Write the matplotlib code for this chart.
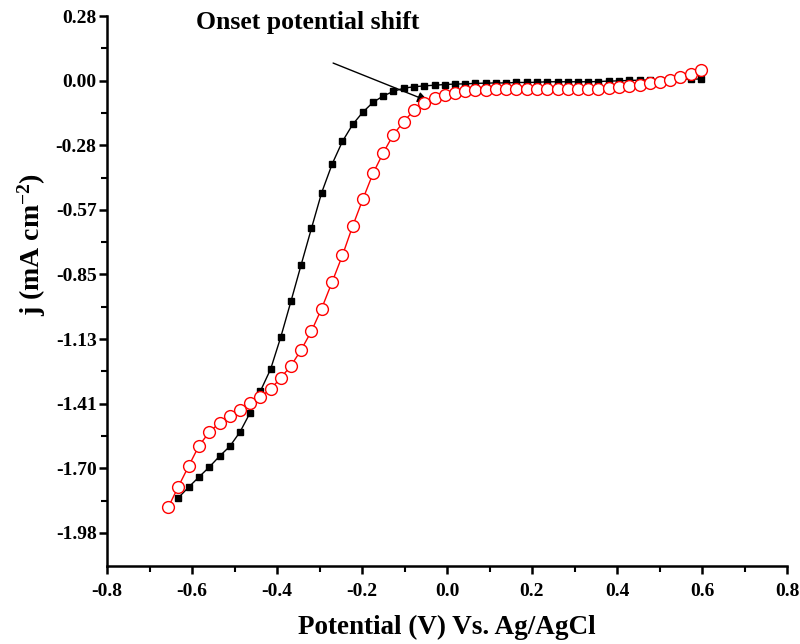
import matplotlib
matplotlib.use("Agg")
import matplotlib.pyplot as plt
from matplotlib.ticker import MultipleLocator, FixedLocator

# Potential (V vs Ag/AgCl); the red series uses all points, the black one starts at index 1
potential = [-0.656, -0.632, -0.608, -0.584, -0.560, -0.535, -0.511, -0.487, -0.463, -0.439,
             -0.415, -0.391, -0.367, -0.343, -0.319, -0.295, -0.270, -0.246, -0.222, -0.198,
             -0.174, -0.150, -0.126, -0.102, -0.078, -0.054, -0.029, -0.005, 0.019, 0.043,
             0.067, 0.091, 0.115, 0.139, 0.163, 0.188, 0.212, 0.236, 0.260, 0.284,
             0.308, 0.332, 0.356, 0.380, 0.404, 0.429, 0.453, 0.477, 0.501, 0.525,
             0.549, 0.573, 0.597]

j_black = [-1.826, -1.780, -1.736, -1.693, -1.644, -1.601, -1.538, -1.453, -1.359, -1.263,
           -1.122, -0.965, -0.805, -0.647, -0.491, -0.364, -0.266, -0.192, -0.138, -0.095,
           -0.067, -0.047, -0.033, -0.027, -0.023, -0.020, -0.017, -0.015, -0.014, -0.012,
           -0.011, -0.010, -0.010, -0.008, -0.008, -0.007, -0.005, -0.005, -0.005, -0.005,
           -0.005, -0.004, -0.002, -0.001, 0.001, 0.002, 0.003, 0.004, 0.005, 0.006,
           0.007, 0.007]

j_red = [-1.868, -1.777, -1.688, -1.600, -1.540, -1.498, -1.470, -1.440, -1.413, -1.384,
         -1.351, -1.301, -1.248, -1.178, -1.097, -0.998, -0.880, -0.765, -0.637, -0.519,
         -0.406, -0.316, -0.236, -0.180, -0.130, -0.100, -0.078, -0.063, -0.053, -0.047,
         -0.043, -0.039, -0.037, -0.036, -0.035, -0.035, -0.035, -0.035, -0.035, -0.035,
         -0.035, -0.036, -0.036, -0.033, -0.028, -0.024, -0.018, -0.012, -0.004, 0.004,
         0.015, 0.027, 0.045]

x_ticks = [-0.8, -0.6, -0.4, -0.2, 0.0, 0.2, 0.4, 0.6, 0.8]
x_tick_labels = ["-0.8", "-0.6", "-0.4", "-0.2", "0.0", "0.2", "0.4", "0.6", "0.8"]
y_ticks = [0.2828, 0.0, -0.2828, -0.5656, -0.8484, -1.1312, -1.414, -1.6968, -1.9796]
y_tick_labels = ["0.28", "0.00", "-0.28", "-0.57", "-0.85", "-1.13", "-1.41", "-1.70", "-1.98"]

plt.rcParams['font.family'] = ['Liberation Serif', 'DejaVu Serif']
plt.rcParams['font.weight'] = 'bold'
plt.rcParams['mathtext.fontset'] = 'custom'
plt.rcParams['mathtext.rm'] = 'Liberation Serif:bold'
plt.rcParams['mathtext.bf'] = 'Liberation Serif:bold'
plt.rcParams['mathtext.it'] = 'Liberation Serif:bold'

fig = plt.figure(figsize=(8.0, 6.44), dpi=100)
ax = fig.add_axes([0.13375, 0.1211, 0.85, 0.854])

ax.plot(potential[1:], j_black, color='black', lw=1.0, marker='s', ms=5.0,
        mfc='black', mec='black', zorder=3)
ax.plot(potential, j_red, color='red', lw=1.0, marker='o', ms=8.5,
        mfc='white', mec='red', mew=1.0, zorder=4)

ax.set_xlim(-0.8, 0.8)
ax.set_ylim(-2.125, 0.2828)

ax.xaxis.set_major_locator(FixedLocator(x_ticks))
ax.set_xticklabels(x_tick_labels)
ax.xaxis.set_minor_locator(MultipleLocator(0.1))
ax.yaxis.set_major_locator(FixedLocator(y_ticks))
ax.set_yticklabels(y_tick_labels)
ax.yaxis.set_minor_locator(FixedLocator([0.1414 - 0.2828 * k for k in range(8)]))

for s in ['top', 'right']:
    ax.spines[s].set_visible(False)
for s in ['left', 'bottom']:
    ax.spines[s].set_linewidth(1.8)

ax.tick_params(which='major', direction='out', length=6, width=1.8, labelsize=14)
ax.tick_params(axis='y', which='major', pad=1.5)
ax.tick_params(axis='x', which='major', pad=6)
ax.tick_params(which='minor', direction='out', length=4, width=1.5)
for lab in ax.get_xticklabels() + ax.get_yticklabels():
    lab.set_fontweight('bold')

ax.set_xlabel('Potential (V) Vs. Ag/AgCl', fontsize=19.5, fontweight='bold', labelpad=11)
ax.set_ylabel('j (mA cm$^{-2}$)', fontsize=20, fontweight='bold')
ax.yaxis.set_label_coords(-0.087, 0.585)

ax.text(-0.59, 0.256, 'Onset potential shift', fontsize=18.5, fontweight='bold',
        ha='left', va='center')
ax.annotate('', xy=(-0.044, -0.090), xytext=(-0.268, 0.077),
            arrowprops=dict(arrowstyle='-|>', color='black', lw=1.0,
                            mutation_scale=16, shrinkA=0, shrinkB=0))

fig.savefig('out.png', dpi=100)
